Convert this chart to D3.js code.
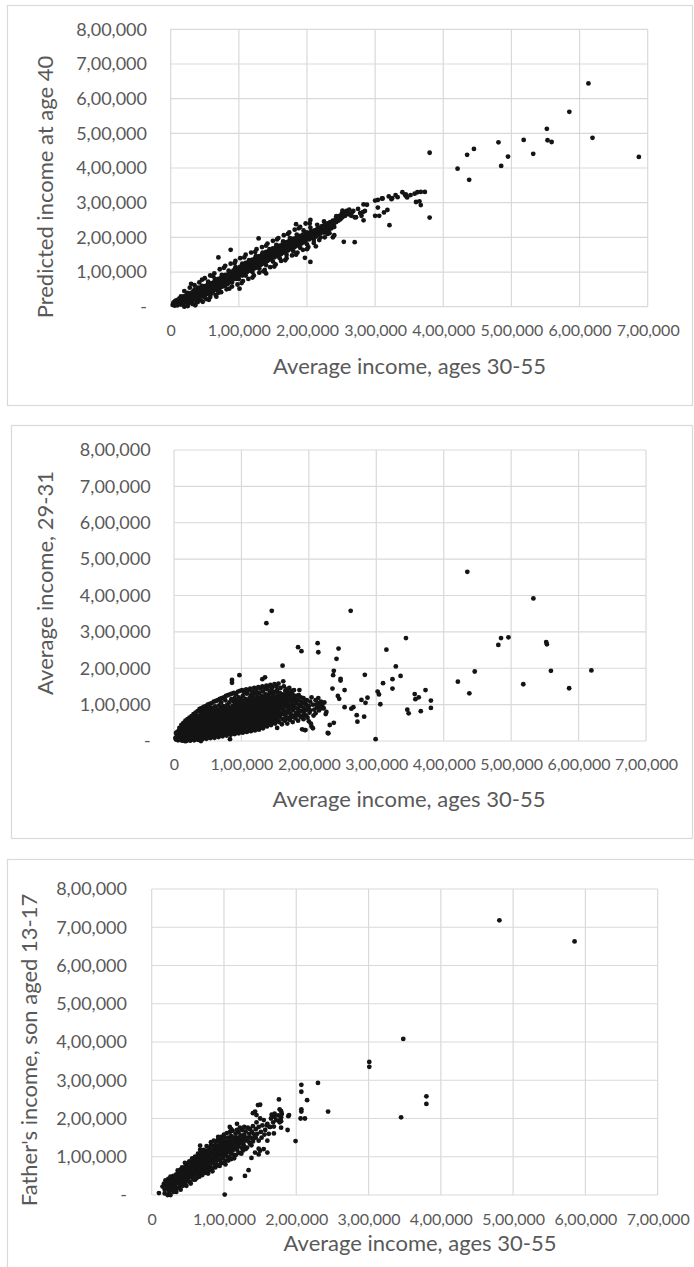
<!DOCTYPE html>
<html>
<head>
<meta charset="utf-8">
<script src="https://cdn.jsdelivr.net/npm/d3@7"></script>
<style>
  html, body { margin: 0; padding: 0; background: #fff; }
  svg { display: block; }
  text { font-family: Lato, "Open Sans", sans-serif; fill: #595959; }
</style>
</head>
<body>
<svg id="chart" width="694" height="1267"></svg>
<script>
// Incomes in thousands of rupees; each pair is [average income ages 30-55, comparison income].
const xTickValues = [0, 100, 200, 300, 400, 500, 600, 700];
const xTickLabels = ["0", "1,00,000", "2,00,000", "3,00,000", "4,00,000", "5,00,000", "6,00,000", "7,00,000"];
const yTickValues = [0, 100, 200, 300, 400, 500, 600, 700, 800];
const yTickLabels = ["-", "1,00,000", "2,00,000", "3,00,000", "4,00,000", "5,00,000", "6,00,000", "7,00,000", "8,00,000"];
const xTitle = "Average income, ages 30-55";
const yTitles = ["Predicted income at age 40", "Average income, 29-31", "Father's income, son aged 13-17"];

const predictedAt40 = [
  [3,5],[4,12],[5,8],[6,3],[6,15],[7,10],[8,6],[8,18],[9,12],[10,4],[10,14],[11,20],[12,9],[12,16],[13,24],[14,12],[15,6],[15,19],[16,26],[17,14],[18,9],[18,22],[19,30],[20,17],[21,12],[21,26],[22,20],[23,33],[24,15],[24,24],[25,29],[26,11],[26,20],[27,35],[28,25],[29,16],[29,31],[30,22],[30,40],
  [31,28],[32,18],[32,36],[33,44],[34,26],[34,33],[35,21],[36,40],[36,30],[37,48],[38,35],[38,24],[39,42],[40,30],[40,55],[41,38],[42,46],[42,28],[43,36],[44,52],[44,41],[45,32],[46,48],[46,60],[47,38],[48,44],[48,30],[49,54],[50,47],[50,38],[51,60],[52,44],[52,52],[53,36],[54,58],[54,48],[55,66],[56,42],[56,54],[57,50],[58,62],[58,38],[59,56],[60,48],[60,68],
  [61,58],[62,44],[62,64],[63,54],[64,72],[64,60],[65,50],[66,66],[66,56],[67,76],[68,62],[68,48],[69,70],[70,60],[70,80],[71,66],[72,54],[72,74],[73,68],[74,84],[74,62],[75,72],[76,58],[76,78],[77,88],[78,70],[78,80],[79,64],[80,76],[80,92],[81,84],[82,70],[82,78],[83,90],[84,82],[84,66],[85,96],[86,76],[86,88],[87,82],[88,100],[88,72],[89,90],[90,84],[90,94],[91,78],[92,104],[92,88],[93,96],[94,84],[94,108],[95,92],[96,100],[96,80],[97,110],[98,94],[98,102],[99,88],[100,106],[100,96],
  [101,114],[102,92],[102,104],[103,98],[104,118],[104,108],[105,90],[106,110],[106,100],[107,122],[108,106],[108,96],[109,114],[110,104],[110,126],[111,110],[112,100],[112,118],[113,108],[114,128],[114,114],[115,104],[116,120],[116,110],[117,132],[118,116],[118,104],[119,124],[120,114],[120,136],[121,120],[122,110],[122,128],[123,118],[124,140],[124,124],[125,112],[126,130],[126,120],[127,142],[128,128],[128,116],[129,136],[130,124],[130,146],[131,132],[132,120],[132,140],[133,130],[134,150],[134,136],[135,124],[136,142],[136,132],[137,154],[138,140],[138,128],[139,148],[140,136],[140,158],[141,144],[142,132],[142,152],[143,140],[144,160],[144,148],[145,136],[146,154],[146,144],[147,164],[148,150],[148,138],[149,158],[150,146],[150,168],
  [151,154],[152,142],[152,162],[153,150],[154,170],[154,158],[155,146],[156,164],[156,154],[157,174],[158,160],[158,150],[159,168],[160,156],[160,176],[161,164],[162,152],[162,170],[163,160],[164,180],[164,168],[165,156],[166,174],[166,164],[167,184],[168,170],[168,160],[169,178],[170,166],[170,186],[171,174],[172,162],[172,182],[173,170],[174,190],[174,178],[175,166],[176,184],[176,174],[177,194],[178,180],[178,170],[179,188],[180,176],[180,196],[181,184],[182,172],[182,192],[183,180],[184,198],[184,188],[185,176],[186,194],[186,184],[187,202],[188,190],[188,180],[189,198],[190,186],[190,204],[191,194],[192,182],[192,200],[193,190],[194,208],[194,196],[195,186],[196,202],[196,192],[197,212],[198,200],[198,190],[199,206],[200,196],[200,214],[202,204],[203,194],[204,212],[205,200],[206,218],[207,208],[208,198],[209,214],
  [210,206],[211,220],[212,212],[213,202],[214,216],[215,224],[216,208],[217,218],[218,228],[219,212],[220,222],[221,214],[222,232],[224,224],[225,214],[226,236],[227,228],[228,218],[230,240],[231,230],[232,222],[234,244],[235,234],[236,226],[238,248],[239,238],[240,230],[242,252],[243,244],[245,258],[246,248],[248,262],[249,252],[251,268],[252,258],[254,272],[256,262],[258,276],[260,268],
  [20,45],[28,55],[35,62],[42,70],[50,82],[58,90],[64,96],[72,108],[80,118],[88,124],[95,132],[102,140],[110,150],[118,156],[126,166],[134,172],[142,182],[150,190],[158,198],[166,206],[174,214],[182,222],[190,230],[198,240],
  [30,66],[46,78],[62,88],[78,112],[94,126],[108,142],[124,158],[140,176],[156,194],[172,210],[188,226],[204,240],
  [25,2],[32,8],[38,12],[45,18],[52,22],[58,28],[66,34],[74,42],[82,50],[90,58],[98,64],[106,74],[114,80],[122,90],[130,98],[138,106],[146,114],[154,122],[162,132],[170,140],[178,148],[186,156],[194,164],[202,172],[210,184],[218,192],[226,200],
  [36,4],[56,20],[70,40],[86,52],[104,68],[120,84],[136,102],[152,116],[168,134],[184,150],[200,166],
  [15,30],[25,40],[35,50],[45,58],[55,72],[65,80],[75,92],[85,104],[95,114],[105,124],[115,134],[125,146],[135,156],[145,166],[155,178],[165,188],[175,198],[185,208],[195,220],[205,228],[215,236],[225,246],
  [20,0],[30,12],[40,20],[50,28],[60,38],[70,50],[80,60],[90,70],[100,80],[110,90],[120,100],[130,110],[140,120],[150,130],[160,140],[170,150],[180,160],[190,170],[200,180],[210,192],[220,200],[230,210],
  [238,200],[240,206],[233,212],[262,280],[265,262],[268,276],[270,258],[275,282],[278,270],[280,262],[283,295],[285,276],
  [300,306],[304,308],[311,312],[320,318],[325,313],[330,322],[333,316],[340,330],[344,322],[346,318],[352,322],[358,326],[362,330],[367,331],[373,331],
  [613,644],[585,562],[552,513],[619,487],[553,480],[559,475],[518,481],[481,474],[445,455],[435,438],[380,444],[495,433],[532,441],[687,432],[485,406],[421,398],[438,366],[380,257],
  [365,304],[367,293],[360,302],[345,324],[347,315],[324,310],[310,312],[304,286],[300,262],[306,262],[318,279],[313,272],[321,235],[288,294],[282,273],[283,249],[270,186],[254,187],
  [262,266],[266,272],[272,258],[252,277],[243,261],[244,255],[205,129],[197,141],[184,238],[205,250],[129,197],[88,164],[70,142],[67,29],[40,14],[47,14],[101,52],[140,96],[213,174]
];

const income29to31 = [
  [3,4],[4,14],[3,22],[6,2],[7,10],[6,19],[7,28],[9,5],[10,15],[9,24],[10,33],[12,1],[13,9],[12,18],[13,27],[12,38],[15,4],[16,13],[15,22],[16,31],[15,42],
  [18,0],[19,8],[18,17],[19,26],[18,35],[19,46],[21,4],[22,12],[21,21],[22,30],[21,40],[22,50],[24,1],[25,9],[24,18],[25,27],[24,36],[25,45],[24,55],
  [27,5],[28,13],[27,22],[28,31],[27,41],[28,51],[27,60],[30,2],[31,10],[30,19],[31,28],[30,37],[31,47],[30,56],[31,64],
  [33,6],[34,15],[33,24],[34,33],[33,43],[34,52],[33,61],[34,70],[36,3],[37,11],[36,20],[37,29],[36,39],[37,48],[36,57],[37,66],
  [39,7],[40,16],[39,25],[40,34],[39,44],[40,53],[39,62],[40,72],[39,80],[42,5],[43,13],[42,22],[43,31],[42,40],[43,49],[42,58],[43,68],[42,77],
  [45,9],[46,18],[45,27],[46,36],[45,45],[46,54],[45,63],[46,73],[45,84],[48,6],[49,14],[48,23],[49,32],[48,41],[49,50],[48,60],[49,70],[48,79],[49,90],
  [51,10],[52,19],[51,28],[52,37],[51,46],[52,55],[51,65],[52,74],[51,84],[54,8],[55,16],[54,25],[55,34],[54,43],[55,52],[54,61],[55,71],[54,80],[55,92],
  [57,12],[58,21],[57,30],[58,39],[57,48],[58,57],[57,66],[58,76],[57,86],[60,9],[61,18],[60,27],[61,36],[60,45],[61,54],[60,63],[61,72],[60,82],[61,95],
  [63,14],[64,23],[63,32],[64,41],[63,50],[64,59],[63,68],[64,78],[63,88],[66,11],[67,20],[66,29],[67,38],[66,47],[67,56],[66,65],[67,74],[66,84],[67,98],
  [69,16],[70,25],[69,34],[70,43],[69,52],[70,61],[69,70],[70,80],[69,90],[70,106],[72,13],[73,22],[72,31],[73,40],[72,49],[73,58],[72,67],[73,76],[72,86],[73,96],
  [75,18],[76,27],[75,36],[76,45],[75,54],[76,63],[75,72],[76,82],[75,92],[76,112],[78,15],[79,24],[78,33],[79,42],[78,51],[79,60],[78,69],[79,78],[78,88],[79,100],
  [81,20],[82,29],[81,38],[82,47],[81,56],[82,65],[81,74],[82,84],[81,94],[82,106],[84,17],[85,26],[84,35],[85,44],[84,53],[85,62],[84,71],[85,80],[84,90],[85,115],[86,160],[86,168],
  [87,22],[88,31],[87,40],[88,49],[87,58],[88,67],[87,76],[88,86],[87,97],[88,110],[90,19],[91,28],[90,37],[91,46],[90,55],[91,64],[90,73],[91,82],[90,92],[91,104],[90,118],
  [93,24],[94,33],[93,42],[94,51],[93,60],[94,69],[93,78],[94,88],[93,98],[94,112],[96,21],[97,30],[96,39],[97,48],[96,57],[97,66],[96,75],[97,84],[96,94],[97,106],[96,120],
  [99,26],[100,35],[99,44],[100,53],[99,62],[100,71],[99,80],[100,90],[99,100],[100,114],[102,23],[103,32],[102,41],[103,50],[102,59],[103,68],[102,77],[103,86],[102,96],[103,108],[102,124],
  [105,28],[106,37],[105,46],[106,55],[105,64],[106,73],[105,82],[106,92],[105,102],[106,116],[108,25],[109,34],[108,43],[109,52],[108,61],[109,70],[108,79],[109,88],[108,98],[109,110],[108,130],
  [111,30],[112,39],[111,48],[112,57],[111,66],[112,75],[111,84],[112,94],[111,104],[112,118],[114,27],[115,36],[114,45],[115,54],[114,63],[115,72],[114,81],[115,90],[114,100],[115,112],[114,126],
  [117,32],[118,41],[117,50],[118,59],[117,68],[118,77],[117,86],[118,96],[117,106],[118,120],[120,29],[121,38],[120,47],[121,56],[120,65],[121,74],[120,83],[121,92],[120,102],[121,114],[120,130],
  [123,34],[124,43],[123,52],[124,61],[123,70],[124,79],[123,88],[124,98],[123,108],[124,122],[126,31],[127,40],[126,49],[127,58],[126,67],[127,76],[126,85],[127,94],[126,104],[127,116],[126,132],
  [129,38],[130,47],[129,56],[130,65],[129,74],[130,83],[129,92],[130,102],[129,112],[130,124],[131,170],[132,35],[133,44],[132,53],[133,62],[132,71],[133,80],[132,89],[133,98],[132,108],[133,120],[132,136],
  [135,42],[136,51],[135,60],[136,69],[135,78],[136,87],[135,96],[136,106],[135,116],[136,128],[135,175],[138,40],[139,49],[138,58],[139,67],[138,76],[139,85],[138,94],[139,104],[138,114],[139,126],[138,142],
  [141,46],[142,55],[141,64],[142,73],[141,82],[142,91],[141,100],[142,110],[141,120],[142,132],[144,44],[145,53],[144,62],[145,71],[144,80],[145,89],[144,98],[145,108],[144,118],[145,130],[144,140],
  [147,50],[148,59],[147,68],[148,77],[147,86],[148,95],[147,104],[148,114],[147,124],[148,136],[150,48],[151,57],[150,66],[151,75],[150,84],[151,93],[150,102],[151,112],[150,122],[151,134],
  [153,36],[154,62],[153,72],[154,82],[153,92],[154,102],[153,112],[154,124],[153,140],[156,52],[157,66],[156,78],[157,90],[156,100],[157,110],[156,120],[157,132],
  [160,46],[161,60],[160,74],[161,86],[160,98],[161,108],[160,118],[161,128],[162,164],[164,56],[165,70],[164,84],[165,96],[164,106],[165,116],[164,126],[165,138],
  [168,48],[169,64],[168,78],[169,92],[168,104],[169,114],[168,124],[169,134],[172,58],[173,74],[172,88],[173,100],[172,112],[173,122],[172,132],
  [176,52],[177,70],[176,84],[177,96],[176,108],[177,118],[176,128],[178,140],[180,62],[181,78],[180,92],[181,104],[180,114],[181,124],
  [184,56],[185,72],[184,88],[185,100],[184,112],[185,126],[186,140],[188,66],[189,82],[188,96],[189,108],[188,120],[190,32],
  [192,60],[193,76],[192,92],[193,104],[192,118],[196,70],[197,86],[196,100],[197,112],[200,54],[201,78],[200,96],[202,108],[203,48],[204,40],
  [206,100],[208,86],[210,112],[212,92],[214,104],[216,96],[218,108],[220,100],[222,90],[210,76],[215,84],
  [2,8],[5,25],[8,36],[11,44],[14,50],[17,56],[20,60],[23,64],[26,68],[29,74],[32,78],[35,82],[38,88],[41,90],[44,94],[47,96],[50,100],[53,102],[56,104],[59,108],[62,110],[65,112],[68,116],[71,118],[74,120],[77,124],[80,126],[83,128],[86,130],[89,132],[92,128],[95,136],[98,138],[101,140],[104,134],[107,142],[110,138],[113,144],[116,136],[119,146],[122,140],[125,148],[128,144],[131,150],[134,146],[137,152],[140,150],[143,154],[146,148],[149,156],[152,150],[155,158],[158,146],[163,150],[167,142],[171,146],[175,138],
  [152,70],[155,88],[158,104],[159,128],[162,78],[163,96],[166,60],[167,112],[170,84],[171,100],[174,66],[175,124],[178,92],[179,106],[182,70],[183,114],[186,82],[187,96],[190,104],[191,68],[194,84],[195,110],[198,64],[199,92],[202,84],[204,120],[207,70],[211,100],[214,118],[219,90],[223,106],[226,80],
  [435,465],[533,392],[145,358],[137,324],[262,358],[344,283],[485,283],[496,285],[481,264],[552,272],[553,266],[315,251],[213,269],[214,244],[184,258],[189,247],
  [244,254],[241,226],[329,205],[237,193],[161,207],[559,193],[619,194],[446,191],[421,163],[518,156],[586,145],[438,131],[97,181],[283,182],[236,181],[336,179],
  [324,170],[247,171],[247,166],[310,159],[324,144],[235,144],[253,140],[373,140],[357,129],[363,120],[358,115],[381,111],[381,91],[306,101],[302,136],[304,128],
  [287,119],[284,105],[278,113],[346,86],[348,76],[366,82],[243,124],[245,116],[266,93],[263,89],[271,71],[272,53],[282,67],[237,50],[231,44],[229,21],[299,5],
  [225,74],[253,93],[195,30],[206,35],[83,5],[40,0],[16,0],[228,22],[194,30]
];

const fatherIncome = [
  [15,22],[17,30],[18,14],[19,38],[20,25],[21,18],[22,33],[23,42],[24,10],[24,28],[25,20],[26,36],[27,46],[28,26],[28,16],[29,40],[30,32],[30,50],
  [31,22],[32,44],[33,36],[33,28],[34,54],[35,42],[35,18],[36,32],[37,48],[37,60],[38,38],[39,28],[39,52],[40,44],[40,66],[41,34],[42,56],[42,46],[43,24],[43,62],[44,40],[45,52],[45,70],[46,46],[46,32],[47,60],[47,76],[48,50],[49,40],[49,66],[50,56],[50,80],
  [51,46],[52,62],[52,72],[53,34],[53,54],[54,68],[54,84],[55,58],[55,46],[56,74],[57,64],[57,90],[58,52],[58,80],[59,70],[60,60],[60,86],[60,40],[61,76],[62,66],[62,94],[63,54],[63,84],[64,72],[65,100],[65,62],[66,80],[66,90],[67,68],[67,56],[68,86],[68,104],[69,76],[70,94],[70,64],[70,110],
  [71,84],[72,72],[72,100],[73,90],[73,60],[74,108],[74,80],[75,96],[75,70],[76,116],[76,88],[77,104],[77,76],[78,94],[78,64],[79,112],[79,84],[80,102],[80,122],[81,92],[81,74],[82,110],[82,130],[83,98],[83,84],[84,118],[84,70],[85,106],[85,90],[86,126],[86,100],[87,114],[87,80],[88,96],[88,132],[89,108],[89,120],[90,90],[90,140],[90,104],
  [91,116],[91,78],[92,128],[92,100],[93,110],[93,122],[94,92],[94,138],[95,116],[95,104],[96,130],[96,84],[97,120],[97,146],[98,108],[98,96],[99,126],[99,138],[100,114],[100,102],[101,132],[101,150],[102,120],[102,90],[103,110],[103,140],[104,128],[105,118],[105,100],[106,136],[106,150],[107,124],[107,112],[108,144],[108,98],[109,132],[110,120],[110,154],[110,108],
  [111,140],[112,128],[112,116],[113,150],[114,136],[114,104],[115,124],[116,146],[116,160],[117,132],[118,118],[118,150],[119,140],[120,128],[120,164],[121,110],[122,146],[122,136],[123,156],[124,124],[125,142],[125,170],[126,150],[127,132],[128,158],[128,178],[129,142],[130,166],[130,120],
  [132,150],[133,176],[134,140],[135,160],[136,172],[137,150],[138,130],[139,164],[140,180],[141,148],[142,158],[144,172],[145,190],[146,160],[148,178],[150,200],[151,165],[153,182],[155,196],[157,170],[160,186],[163,178],[165,200],[168,190],[170,204],[172,196],[175,208],[176,194],[179,203],[180,212],
  [18,4],[22,0],[26,48],[30,14],[34,8],[36,64],[38,20],[40,14],[42,72],[44,28],[46,84],[48,24],[50,36],[52,88],[54,30],[56,96],[58,40],[60,100],[62,44],[64,108],[66,48],[68,116],[70,52],[72,118],[74,58],[76,128],[78,56],[80,66],[82,138],[84,62],[86,142],[88,72],[90,80],[92,146],[94,76],[96,152],[98,84],[100,158],[102,80],[104,162],[106,90],[108,164],[110,94],[112,168],[114,96],[116,104],[118,170],[120,110],[122,176],[124,108],[126,116],[128,126],[132,124],[136,134],[140,140],[144,150],[148,142],[152,150],[156,158],
  [32,30],[36,48],[40,52],[44,56],[48,64],[52,80],[56,66],[60,74],[64,82],[68,94],[72,88],[76,100],[80,94],[84,100],[88,110],[92,118],[96,110],[100,126],[104,118],[108,130],[112,136],[116,130],[120,146],[124,136],[128,150],
  [67,129],[67,118],[92,152],[108,178],[110,172],[118,186],[138,97],[148,106],[150,116],[155,120],[160,142],[162,160],[164,178],[168,207],[170,213],[166,210],[143,218],[147,235],[140,214],
  [176,250],[177,224],[178,197],[177,190],[179,176],[189,206],[188,170],[199,141],[207,224],[207,218],[206,200],[212,200],[215,248],[244,218],[207,288],[207,270],[230,293],
  [190,209],[179,219],[179,193],[150,236],[145,209],[169,179],[169,161],[159,182],[160,111],[148,121],[143,111],[134,65],[129,50],[109,43],[101,1],[26,0],[10,5],[30,8],
  [481,718],[585,663],[348,408],[301,348],[301,335],[380,258],[380,238],[345,203]
];

const panels = [
  { data: predictedAt40, yTitle: yTitles[0],
    frame: { x: 7, y: 5, w: 685, h: 400 },
    plot: { left: 170.7, right: 647.7, top: 29.3, bottom: 306.7 },
    yLabelX: 147, xLabelY: 330, xTitlePos: [409.5, 365], yTitlePos: [44, 187] },
  { data: income29to31, yTitle: yTitles[1],
    frame: { x: 11, y: 425, w: 681, h: 413 },
    plot: { left: 174, right: 646, top: 450, bottom: 741 },
    yLabelX: 150.7, xLabelY: 764, xTitlePos: [409, 798], yTitlePos: [44, 583] },
  { data: fatherIncome, yTitle: yTitles[2],
    frame: { x: 7, y: 859, w: 700, h: 420 },
    plot: { left: 151.7, right: 657.7, top: 889, bottom: 1195 },
    yLabelX: 127, xLabelY: 1219, xTitlePos: [420, 1242], yTitlePos: [28.5, 1050] }
];

const svg = d3.select("#chart");

panels.forEach(p => {
  const g = svg.append("g");

  // chart frame
  g.append("rect")
    .attr("x", p.frame.x + 0.5).attr("y", p.frame.y + 0.5)
    .attr("width", p.frame.w).attr("height", p.frame.h)
    .attr("fill", "#fff").attr("stroke", "#d9d9d9").attr("stroke-width", 1.2);

  const x = d3.scaleLinear().domain([0, 700]).range([p.plot.left, p.plot.right]);
  const y = d3.scaleLinear().domain([0, 800]).range([p.plot.bottom, p.plot.top]);

  // gridlines
  g.append("g").selectAll("line").data(xTickValues).join("line")
    .attr("x1", d => x(d)).attr("x2", d => x(d))
    .attr("y1", p.plot.top).attr("y2", p.plot.bottom)
    .attr("stroke", "#d9d9d9").attr("stroke-width", 1.2);
  g.append("g").selectAll("line").data(yTickValues).join("line")
    .attr("x1", p.plot.left).attr("x2", p.plot.right)
    .attr("y1", d => y(d)).attr("y2", d => y(d))
    .attr("stroke", "#d9d9d9").attr("stroke-width", 1.2);

  // axes (labels only)
  const yAxis = d3.axisLeft(y).tickValues(yTickValues)
    .tickFormat((d, i) => yTickLabels[i]).tickSize(0).tickPadding(0);
  const ya = g.append("g").attr("transform", `translate(${p.yLabelX},0)`).call(yAxis);
  ya.select(".domain").remove();
  ya.selectAll("text").attr("font-family", "Lato").attr("font-size", 18).attr("fill", "#595959");

  const xAxis = d3.axisBottom(x).tickValues(xTickValues)
    .tickFormat((d, i) => xTickLabels[i]).tickSize(0).tickPadding(0);
  const xa = g.append("g").attr("transform", `translate(0,${p.xLabelY})`).call(xAxis);
  xa.select(".domain").remove();
  xa.selectAll("text").attr("dy", "0.35em").attr("font-family", "Lato").attr("font-size", 16).attr("fill", "#595959");

  // axis titles
  g.append("text")
    .attr("x", p.xTitlePos[0]).attr("y", p.xTitlePos[1])
    .attr("text-anchor", "middle").attr("dominant-baseline", "central")
    .attr("font-size", 22).text(xTitle);
  g.append("text")
    .attr("transform", `translate(${p.yTitlePos[0]},${p.yTitlePos[1]}) rotate(-90)`)
    .attr("text-anchor", "middle").attr("dominant-baseline", "central")
    .attr("font-size", 22).text(p.yTitle);

  // points
  g.append("g").selectAll("circle").data(p.data).join("circle")
    .attr("cx", d => x(d[0])).attr("cy", d => y(d[1]))
    .attr("r", 2.4).attr("fill", "#141414");
});
</script>
</body>
</html>
